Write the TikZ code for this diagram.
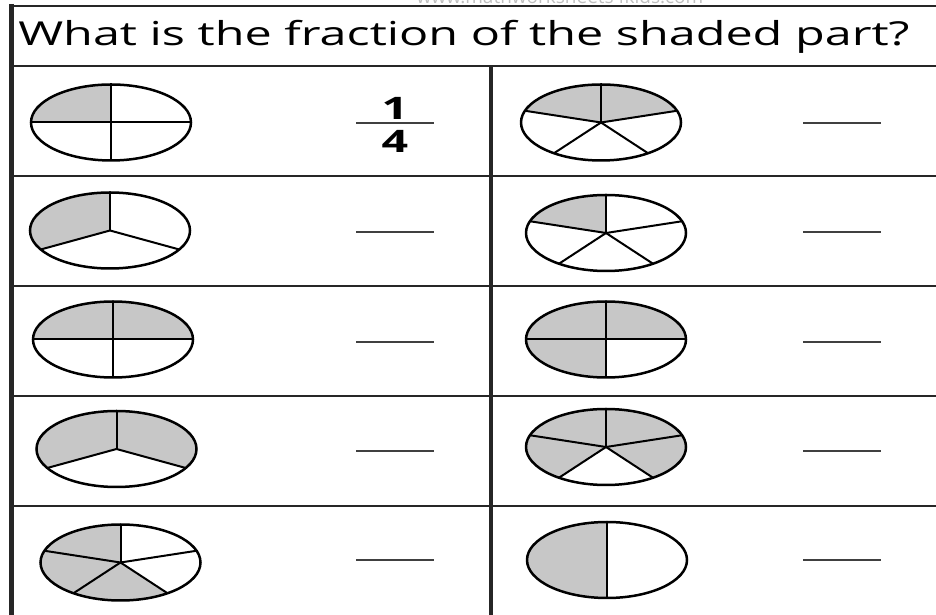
\documentclass[tikz,border=0pt]{standalone}
\usepackage{fontspec}
\setmainfont{Open Sans}
\definecolor{piegray}{gray}{0.78}
\definecolor{rulegray}{gray}{0.15}

\begin{document}
\begin{tikzpicture}[x=1pt,y=1pt,
  rim/.style={line width=2.5pt},
  cut/.style={line width=2pt},
  rule/.style={line width=2.8pt,rulegray},
  blank/.style={line width=2pt,black!75},
  digit/.style={font=\bfseries\fontsize{31}{33}\selectfont,inner sep=0pt,xscale=1.5}]
  \useasboundingbox (0,0) rectangle (936,615);
  \clip (0,0) rectangle (936,615);
  % site name, cut off by the top edge
  \node[text=black!25,font=\fontsize{19}{21}\selectfont,anchor=base] (site) at (560,611) {www.mathworksheets4kids.com};
  % table
  \draw[rule] (11,609) -- (936,609);
  \foreach \y in {549,439,329,219,109}
    \draw[rule] (11,\y) -- (936,\y);
  \draw[line width=5pt,rulegray] (11,611) -- (11,0);
  \draw[line width=4pt,rulegray] (491,549) -- (491,0);
  \node[anchor=base west,inner sep=0pt,xscale=1.47,font=\fontsize{33}{35}\selectfont] (title) at (18,569) {What is the fraction of the shaded part?};
  % pies: centre / slices / shaded from / shaded to
  \foreach \cx/\cy/\n/\from/\to in {111/492.5/4/90/180, 601/492.5/5/18/162,
      110/384.5/3/90/210, 606/382/5/90/162,
      113/275.5/4/0/180, 606/275.5/4/0/270,
      116.5/166/3/-30/210, 606/168/5/-54/234,
      120.5/52.5/5/90/306, 607/55/2/90/270}{
    \fill[piegray] (\cx,\cy) -- ++(\from:80 and 38)
      arc[start angle=\from,end angle=\to,x radius=80,y radius=38] -- cycle;
    \foreach \k in {1,...,\n}
      \draw[cut] (\cx,\cy) -- ++({90+\k*360/\n}:80 and 38);
    \draw[rim] (\cx,\cy) ellipse[x radius=80,y radius=38];
  }
  % answer and blanks
  \node[digit] (num) at (395,507) {1};
  \draw[blank] (356,492) -- (434,492);
  \node[digit] (den) at (395,474) {4};
  \foreach \x/\y in {803/492, 356/383, 803/383, 356/273, 803/273,
      356/164, 803/164, 356/55, 803/55}
    \draw[blank] (\x,\y) -- ++(78,0);
\end{tikzpicture}
\end{document}
